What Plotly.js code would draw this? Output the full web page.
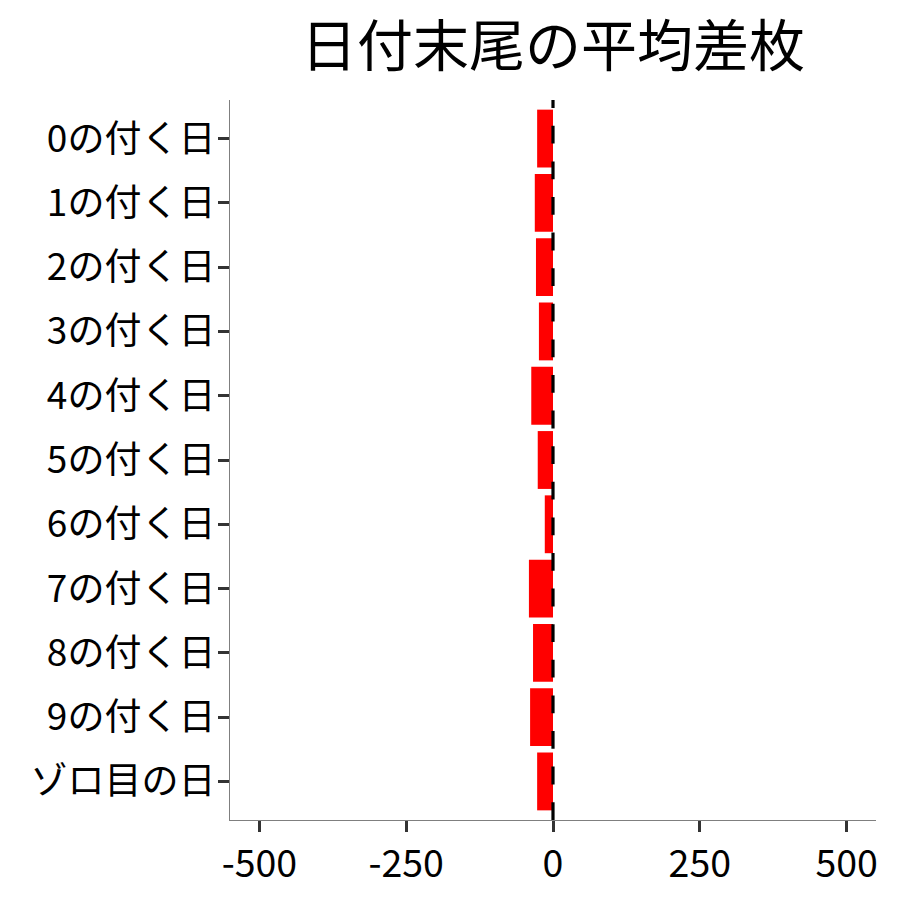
<!DOCTYPE html>
<html>
<head>
<meta charset="utf-8">
<script src="https://cdn.plot.ly/plotly-3.0.1.min.js"></script>
<style>
  html, body { margin: 0; padding: 0; background: #fff; }
  #chart { width: 900px; height: 900px; }
</style>
</head>
<body>
<div id="chart"></div>
<script>
  // ---------- Data ----------
  const categories = [
    "0の付く日", "1の付く日", "2の付く日", "3の付く日", "4の付く日",
    "5の付く日", "6の付く日", "7の付く日", "8の付く日", "9の付く日", "ゾロ目の日"
  ];
  const avgDiff = [-27, -31, -29, -24, -37, -26, -14, -41, -34, -39, -27];
  const xTicks = [-500, -250, 0, 250, 500];
  const refLineX = 0;

  const FONT = "Noto Sans CJK JP, Noto Sans, sans-serif";

  const traces = [{
    type: "bar",
    orientation: "h",
    y: categories,
    x: avgDiff,
    width: 0.9,
    marker: { color: "#ff0000", line: { width: 0 } },
    hoverinfo: "skip",
  }];

  const layout = {
    width: 900,
    height: 900,
    paper_bgcolor: "#fff",
    plot_bgcolor: "#fff",
    font: { family: FONT, color: "#000", size: 37 },
    margin: { l: 230, r: 24, t: 100, b: 80 },
    showlegend: false,
    title: {
      text: "日付末尾の平均差枚",
      font: { family: FONT, size: 56, color: "#000" },
      x: 0.5, xref: "paper", xanchor: "center",
      y: 0.948, yref: "container", yanchor: "middle",
    },
    xaxis: {
      range: [-550, 550],
      tickvals: xTicks,
      ticktext: xTicks.map(String),
      showgrid: false,
      zeroline: false,
      showline: true,
      linecolor: "#7f7f7f",
      linewidth: 1.2,
      ticks: "outside",
      ticklen: 11,
      tickwidth: 3,
      tickcolor: "#333",
      tickfont: { family: FONT, size: 37.5, color: "#000" },
    },
    yaxis: {
      type: "category",
      categoryorder: "array",
      categoryarray: categories,
      range: [categories.length - 1 + 0.6, -0.6],
      showgrid: false,
      zeroline: false,
      showline: true,
      linecolor: "#7f7f7f",
      linewidth: 1.2,
      ticks: "outside",
      ticklen: 11,
      tickwidth: 3,
      tickcolor: "#333",
      ticklabelstandoff: -5,
      tickfont: { family: FONT, size: 37, color: "#000" },
    },
    shapes: [{
      type: "line",
      xref: "x", yref: "paper",
      x0: refLineX, x1: refLineX,
      y0: 0, y1: 1,
      layer: "above",
      line: { color: "#000", width: 3.2, dash: "17.8px,17.8px" },
    }],
  };

  Plotly.newPlot("chart", traces, layout, { displayModeBar: false, staticPlot: true });
</script>
</body>
</html>
